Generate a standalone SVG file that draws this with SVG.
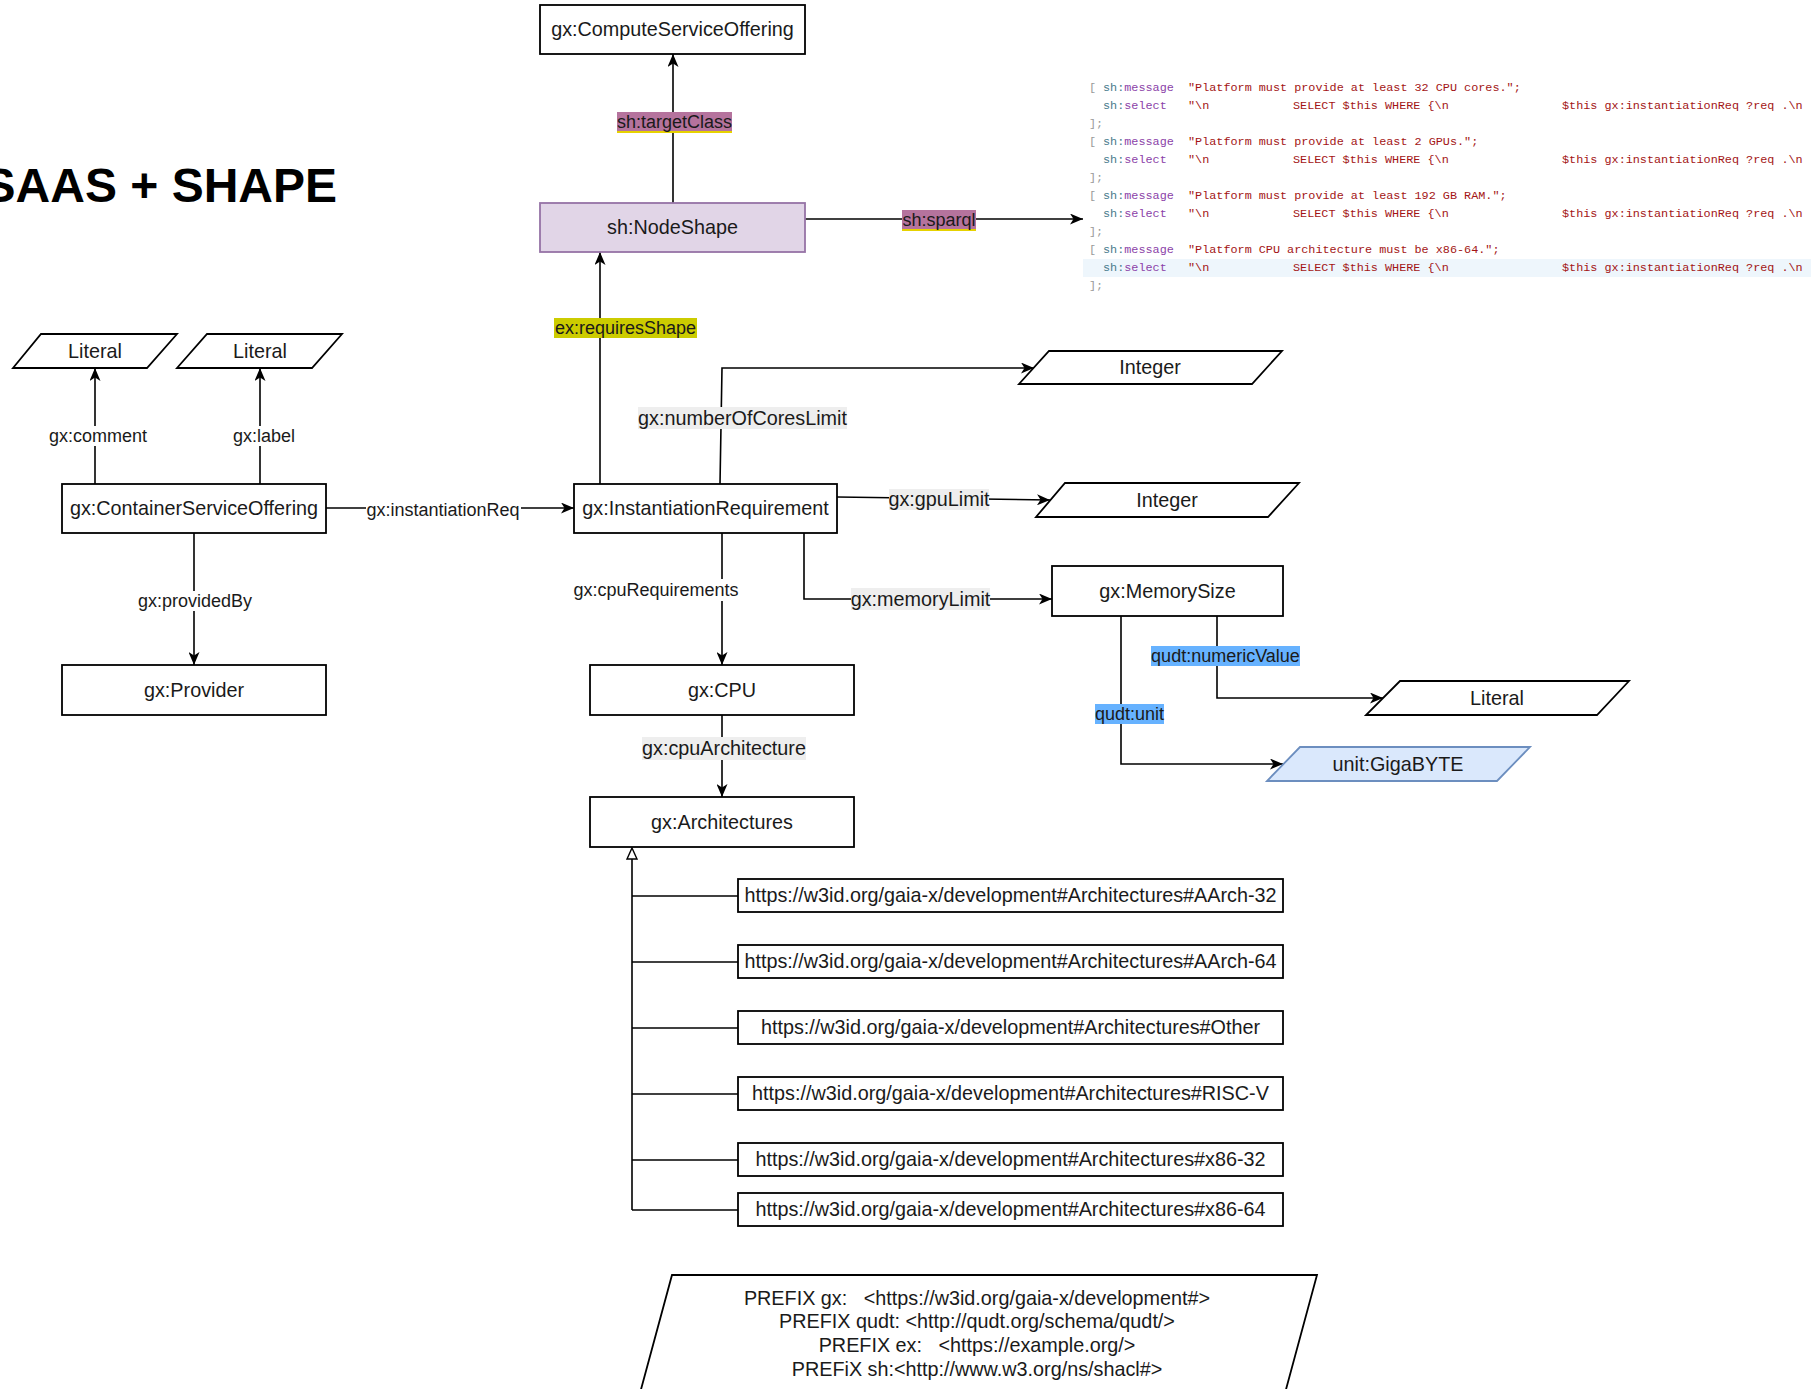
<svg xmlns="http://www.w3.org/2000/svg" width="1811" height="1389" viewBox="0 0 1811 1389">
<style>
.bx{fill:#fff;stroke:#000;stroke-width:1.8}
.t{font-family:"Liberation Sans",Arial,sans-serif;font-size:19.8px;fill:#1a1a1a;text-anchor:middle;dominant-baseline:central}
.l{font-family:"Liberation Sans",Arial,sans-serif;font-size:18px;fill:#1a1a1a;text-anchor:middle;dominant-baseline:central}
.ln{fill:none;stroke:#000;stroke-width:1.6}
.ar{marker-end:url(#arr)}
.code{font-family:"Liberation Mono","DejaVu Sans Mono",monospace;font-size:11.8px;dominant-baseline:central}
.g{fill:#999}.k{fill:#4a7b8c}.p{fill:#8b3fa8}.s{fill:#a31515}
</style>
<defs>
<marker id="arr" markerUnits="userSpaceOnUse" markerWidth="14" markerHeight="11" refX="13" refY="5.5" orient="auto">
<path d="M0,0 L13,5.5 L0,11 L3.5,5.5 Z" fill="#000"/>
</marker>
</defs>
<rect width="1811" height="1389" fill="#fff"/>

<text id="title" x="337" y="202" text-anchor="end" font-family="'Liberation Sans',Arial,sans-serif" font-weight="bold" font-size="48" fill="#000">SAAS + SHAPE</text>

<g id="connectors">
<line class="ln ar" x1="673" y1="203" x2="673" y2="54"/>
<line class="ln ar" x1="805" y1="219" x2="1083" y2="219"/>
<line class="ln ar" x1="600" y1="484" x2="600" y2="252"/>
<line class="ln ar" x1="95" y1="484" x2="95" y2="368"/>
<line class="ln ar" x1="260" y1="484" x2="260" y2="368"/>
<line class="ln ar" x1="194" y1="533" x2="194" y2="665"/>
<line class="ln ar" x1="326" y1="508" x2="574" y2="508"/>
<polyline class="ln ar" points="720,484 722,368 1034,368"/>
<polyline class="ln ar" points="837,497 1050,500"/>
<polyline class="ln ar" points="804,533 804,599 1052,599"/>
<line class="ln ar" x1="722" y1="533" x2="722" y2="665"/>
<line class="ln ar" x1="722" y1="715" x2="722" y2="797"/>
<polyline class="ln ar" points="1217,616 1217,698 1383,698"/>
<polyline class="ln ar" points="1121,616 1121,764 1283,764"/>
<line class="ln" x1="632" y1="859" x2="632" y2="1210"/>
<polygon points="632,848 637,859 627,859" fill="#fff" stroke="#000" stroke-width="1.4"/>
<line class="ln" x1="632" y1="896" x2="738" y2="896"/>
<line class="ln" x1="632" y1="962" x2="738" y2="962"/>
<line class="ln" x1="632" y1="1028" x2="738" y2="1028"/>
<line class="ln" x1="632" y1="1094" x2="738" y2="1094"/>
<line class="ln" x1="632" y1="1160" x2="738" y2="1160"/>
<line class="ln" x1="632" y1="1210" x2="738" y2="1210"/>

<g id="lbl-targetClass"><rect x="617" y="112" width="115" height="20" fill="#b5739d"/><line x1="617" y1="132" x2="732" y2="132" stroke="#e6d200" stroke-width="2"/><text class="l" x="674.5" y="122">sh:targetClass</text></g>
<g id="lbl-sparql"><rect x="902" y="210" width="74" height="20" fill="#b5739d"/><line x1="902" y1="230" x2="976" y2="230" stroke="#e6d200" stroke-width="2"/><text class="l" x="939" y="220">sh:sparql</text></g>
<g id="lbl-requiresShape"><rect x="554" y="318" width="143" height="20" fill="#cccc00"/><text class="l" x="625.5" y="328">ex:requiresShape</text></g>
<g id="lbl-comment"><rect x="49" y="426" width="99" height="20" fill="#fff"/><text class="l" x="98" y="436">gx:comment</text></g>
<g id="lbl-label"><rect x="232" y="426" width="64" height="20" fill="#fff"/><text class="l" x="264" y="436">gx:label</text></g>
<g id="lbl-providedBy"><rect x="138" y="591" width="115" height="20" fill="#fff"/><text class="l" x="195" y="601">gx:providedBy</text></g>
<g id="lbl-instantiationReq"><rect x="366" y="500" width="155" height="20" fill="#fff"/><text class="l" x="443" y="510">gx:instantiationReq</text></g>
<g id="lbl-numberOfCoresLimit"><rect x="638" y="407" width="209" height="22" fill="#eeeeee"/><text class="t" x="742.5" y="418">gx:numberOfCoresLimit</text></g>
<g id="lbl-gpuLimit"><rect x="889" y="489" width="100" height="21" fill="#eeeeee"/><text class="t" x="939" y="499">gx:gpuLimit</text></g>
<g id="lbl-memoryLimit"><rect x="851" y="588" width="139" height="22" fill="#eeeeee"/><text class="t" x="920.5" y="599">gx:memoryLimit</text></g>
<g id="lbl-cpuRequirements"><rect x="573" y="579" width="166" height="22" fill="#fff"/><text class="l" x="656" y="590">gx:cpuRequirements</text></g>
<g id="lbl-cpuArchitecture"><rect x="642" y="737" width="164" height="23" fill="#eeeeee"/><text class="t" x="724" y="748">gx:cpuArchitecture</text></g>
<g id="lbl-numericValue"><rect x="1151" y="646" width="149" height="20" fill="#66b2ff"/><text class="l" x="1225.5" y="656">qudt:numericValue</text></g>
<g id="lbl-unit"><rect x="1095" y="704" width="69" height="20" fill="#66b2ff"/><text class="l" x="1129.5" y="714">qudt:unit</text></g>
</g>

<g id="computeServiceOffering"><rect class="bx" x="540" y="5" width="265" height="49"/><text class="t" x="672.5" y="29">gx:ComputeServiceOffering</text></g>
<g id="nodeShape"><rect x="540" y="203" width="265" height="49" fill="#e1d5e7" stroke="#9673a6" stroke-width="1.8"/><text class="t" x="672.5" y="227">sh:NodeShape</text></g>
<g id="literal1"><polygon class="bx" points="41,334 177,334 147,368 13,368"/><text class="t" x="95" y="350.5">Literal</text></g>
<g id="literal2"><polygon class="bx" points="207,334 342,334 312,368 177,368"/><text class="t" x="260" y="350.5">Literal</text></g>
<g id="containerServiceOffering"><rect class="bx" x="62" y="484" width="264" height="49"/><text class="t" x="194" y="508">gx:ContainerServiceOffering</text></g>
<g id="provider"><rect class="bx" x="62" y="665" width="264" height="50"/><text class="t" x="194" y="689.5">gx:Provider</text></g>
<g id="instantiationRequirement"><rect class="bx" x="574" y="484" width="263" height="49"/><text class="t" x="705.5" y="508">gx:InstantiationRequirement</text></g>
<g id="integer1"><polygon class="bx" points="1049,351 1282,351 1252,384 1019,384"/><text class="t" x="1150" y="367">Integer</text></g>
<g id="integer2"><polygon class="bx" points="1065,483 1299,483 1268,517 1036,517"/><text class="t" x="1167" y="499.5">Integer</text></g>
<g id="memorySize"><rect class="bx" x="1052" y="566" width="231" height="50"/><text class="t" x="1167.5" y="590.5">gx:MemorySize</text></g>
<g id="literal3"><polygon class="bx" points="1400,681 1629,681 1597,715 1366,715"/><text class="t" x="1497" y="697.5">Literal</text></g>
<g id="gigaByte"><polygon points="1300,747 1530,747 1497,781 1267,781" fill="#dae8fc" stroke="#6c8ebf" stroke-width="1.8"/><text class="t" x="1398" y="763.5">unit:GigaBYTE</text></g>
<g id="cpu"><rect class="bx" x="590" y="665" width="264" height="50"/><text class="t" x="722" y="689.5">gx:CPU</text></g>
<g id="architectures"><rect class="bx" x="590" y="797" width="264" height="50"/><text class="t" x="722" y="821.5">gx:Architectures</text></g>
<g id="arch-aarch32"><rect class="bx" x="738" y="879" width="545" height="33"/><text class="t" x="1010.5" y="895">https://w3id.org/gaia-x/development#Architectures#AArch-32</text></g>
<g id="arch-aarch64"><rect class="bx" x="738" y="945" width="545" height="33"/><text class="t" x="1010.5" y="961">https://w3id.org/gaia-x/development#Architectures#AArch-64</text></g>
<g id="arch-other"><rect class="bx" x="738" y="1011" width="545" height="33"/><text class="t" x="1010.5" y="1027">https://w3id.org/gaia-x/development#Architectures#Other</text></g>
<g id="arch-riscv"><rect class="bx" x="738" y="1077" width="545" height="33"/><text class="t" x="1010.5" y="1093">https://w3id.org/gaia-x/development#Architectures#RISC-V</text></g>
<g id="arch-x8632"><rect class="bx" x="738" y="1143" width="545" height="33"/><text class="t" x="1010.5" y="1159">https://w3id.org/gaia-x/development#Architectures#x86-32</text></g>
<g id="arch-x8664"><rect class="bx" x="738" y="1193" width="545" height="33"/><text class="t" x="1010.5" y="1209">https://w3id.org/gaia-x/development#Architectures#x86-64</text></g>

<g id="prefixes">
<polygon class="bx" points="672,1275 1317,1275 1275,1430 630,1430"/>
<text class="t" x="977" y="1298" xml:space="preserve">PREFIX gx:   &lt;https://w3id.org/gaia-x/development#&gt;</text>
<text class="t" x="977" y="1321" xml:space="preserve">PREFIX qudt: &lt;http://qudt.org/schema/qudt/&gt;</text>
<text class="t" x="977" y="1345" xml:space="preserve">PREFIX ex:   &lt;https://example.org/&gt;</text>
<text class="t" x="977" y="1369" xml:space="preserve">PREFiX sh:&lt;http://www.w3.org/ns/shacl#&gt;</text>
</g>

<g id="sparqlCode" class="code">
<rect x="1083" y="259" width="728" height="18" fill="#eef6fc"/>
<text y="88"><tspan x="1089" class="g">[</tspan><tspan x="1103" class="k">sh:</tspan><tspan class="p">message</tspan><tspan x="1188" class="s">"Platform must provide at least 32 CPU cores.";</tspan></text>
<text y="106"><tspan x="1103" class="k">sh:</tspan><tspan class="p">select</tspan><tspan x="1188" class="s">"\n</tspan><tspan x="1293" class="s">SELECT $this WHERE {\n</tspan><tspan x="1562" class="s">$this gx:instantiationReq ?req .\n</tspan></text>
<text y="124" x="1089" class="g">];</text>
<text y="142"><tspan x="1089" class="g">[</tspan><tspan x="1103" class="k">sh:</tspan><tspan class="p">message</tspan><tspan x="1188" class="s">"Platform must provide at least 2 GPUs.";</tspan></text>
<text y="160"><tspan x="1103" class="k">sh:</tspan><tspan class="p">select</tspan><tspan x="1188" class="s">"\n</tspan><tspan x="1293" class="s">SELECT $this WHERE {\n</tspan><tspan x="1562" class="s">$this gx:instantiationReq ?req .\n</tspan></text>
<text y="178" x="1089" class="g">];</text>
<text y="196"><tspan x="1089" class="g">[</tspan><tspan x="1103" class="k">sh:</tspan><tspan class="p">message</tspan><tspan x="1188" class="s">"Platform must provide at least 192 GB RAM.";</tspan></text>
<text y="214"><tspan x="1103" class="k">sh:</tspan><tspan class="p">select</tspan><tspan x="1188" class="s">"\n</tspan><tspan x="1293" class="s">SELECT $this WHERE {\n</tspan><tspan x="1562" class="s">$this gx:instantiationReq ?req .\n</tspan></text>
<text y="232" x="1089" class="g">];</text>
<text y="250"><tspan x="1089" class="g">[</tspan><tspan x="1103" class="k">sh:</tspan><tspan class="p">message</tspan><tspan x="1188" class="s">"Platform CPU architecture must be x86-64.";</tspan></text>
<text y="268"><tspan x="1103" class="k">sh:</tspan><tspan class="p">select</tspan><tspan x="1188" class="s">"\n</tspan><tspan x="1293" class="s">SELECT $this WHERE {\n</tspan><tspan x="1562" class="s">$this gx:instantiationReq ?req .\n</tspan></text>
<text y="286" x="1089" class="g">];</text>
</g>
</svg>
